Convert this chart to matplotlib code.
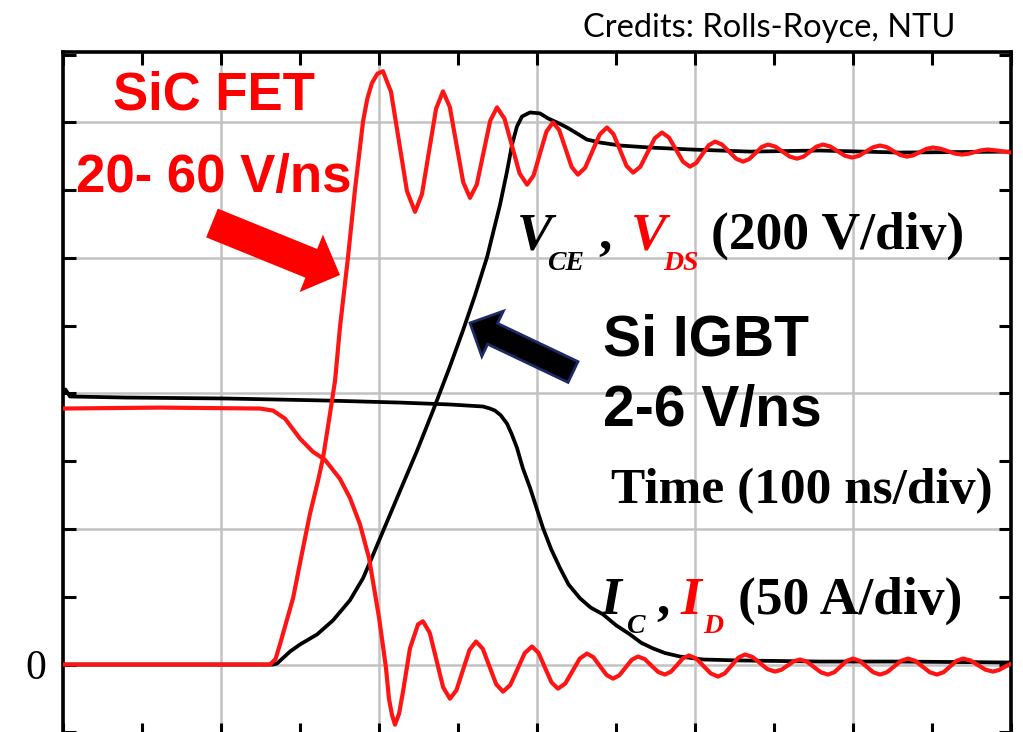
import matplotlib
matplotlib.use("Agg")
import matplotlib.pyplot as plt
import matplotlib.patches as mpatches
from matplotlib.ticker import MultipleLocator, FuncFormatter

# ---------------- data (time in ns, amplitude in divisions) ----------------
# SiC FET drain-source voltage V_DS (200 V/div)
t_vds = [0, 60, 131.0, 134.5, 137.3, 145.6, 151.9, 156.3, 161.4, 164.6, 169.0, 172.2, 175.3,
         180.4, 184.8, 189.9, 192.5, 195.5, 199.0, 202.5,
         207.6, 212.65, 217.7, 222.8, 227.2, 231.65, 236.1, 240.5,
         244.8, 249.05, 253.3, 257.6, 261.9, 266.15, 270.4, 274.7,
         279.45, 284.2, 288.95, 293.7, 297.8, 301.9, 306.0, 310.1,
         314.05, 318.0, 321.95, 325.9, 330.5, 335.1, 339.7, 344.3,
         348.4, 352.55, 356.7, 360.8, 365.4, 369.95, 374.5, 379.1,
         383.5, 387.95, 392.4, 396.8, 400.8, 404.75, 408.7, 412.7,
         417.1, 421.55, 426.0, 430.4, 434.35, 438.3, 442.25, 446.2,
         450.8, 455.4, 460.0, 464.6, 468.7, 472.8, 476.9, 481.0,
         485.6, 490.2, 494.8, 499.4, 503.8, 508.25, 512.7, 517.1,
         521.4, 525.65, 529.9, 534.2, 538.3, 542.4, 546.5, 550.6,
         555.2, 559.8, 564.4, 569.0, 573.1, 577.2, 581.3, 585.4,
         589.5, 593.6, 600]
vds = [0.0, 0.0, 0.0, 0.04, 0.148, 0.489, 0.859, 1.111, 1.356, 1.526, 1.852, 2.096, 2.489,
       3.007, 3.504, 4.007, 4.17, 4.29, 4.36, 4.378,
       4.226, 3.860, 3.493, 3.341, 3.471, 3.786, 4.100, 4.230,
       4.115, 3.837, 3.559, 3.444, 3.542, 3.778, 4.013, 4.111,
       4.028, 3.826, 3.625, 3.541, 3.608, 3.771, 3.933, 4.000,
       3.944, 3.808, 3.671, 3.615, 3.666, 3.789, 3.912, 3.963,
       3.914, 3.797, 3.679, 3.630, 3.673, 3.778, 3.883, 3.926,
       3.889, 3.800, 3.711, 3.674, 3.701, 3.767, 3.832, 3.859,
       3.837, 3.785, 3.733, 3.711, 3.730, 3.774, 3.819, 3.837,
       3.822, 3.785, 3.748, 3.733, 3.748, 3.785, 3.822, 3.837,
       3.823, 3.789, 3.755, 3.741, 3.754, 3.786, 3.817, 3.830,
       3.818, 3.789, 3.760, 3.748, 3.758, 3.782, 3.805, 3.815,
       3.807, 3.789, 3.771, 3.763, 3.769, 3.782, 3.795, 3.800,
       3.795, 3.789, 3.778]

# Si IGBT collector-emitter voltage V_CE (200 V/div)
t_vce = [0, 60, 133.0, 135.4, 143.7, 150.0, 160.8, 170.9, 181.6, 189.9, 194.3, 200.6,
         213.3, 224.1, 234.2, 244.9, 253.2, 260.8, 268.4, 276.6, 281.0, 284.2, 287.3,
         290.5, 295.6, 301.9, 307.0, 312.7, 319.0, 325.3, 331.6, 339.9, 352.5, 371.5,
         398.7, 434.8, 479.1, 529.7, 600]
vce = [0.0, 0.0, 0.0, 0.007, 0.096, 0.148, 0.222, 0.326, 0.474, 0.637, 0.756, 0.93,
       1.281, 1.578, 1.874, 2.2, 2.467, 2.726, 3.007, 3.393, 3.637, 3.837, 3.970,
       4.044, 4.074, 4.067, 4.030, 4.0, 3.963, 3.919, 3.874, 3.852, 3.830, 3.815,
       3.800, 3.785, 3.793, 3.778, 3.785]

# Si IGBT collector current I_C (50 A/div)
t_ic = [0, 1.5, 4.4, 40.5, 103.8, 167.1, 213.3, 244.9, 265.8, 270.0, 273.4, 277.0, 281.0,
        284.0, 287.3, 291.0, 295.6, 303.8, 309.0, 314.6, 320.0, 327.2, 334.0, 341.8,
        350.0, 358.9, 366.0, 373.4, 381.0, 390.5, 405.1, 428.5, 479.1, 529.7, 600]
ic = [2.0, 2.03, 1.978, 1.970, 1.963, 1.948, 1.933, 1.919, 1.904, 1.89, 1.874, 1.84, 1.778,
      1.70, 1.6, 1.45, 1.304, 1.007, 0.85, 0.711, 0.59, 0.489, 0.42, 0.370,
      0.29, 0.222, 0.16, 0.119, 0.085, 0.059, 0.037, 0.030, 0.022, 0.022, 0.015]

# SiC FET drain current I_D (50 A/div)
t_id = [0, 61.4, 124.7, 132.9, 140.5, 150.0, 158.2, 165.8, 175.3, 181.6, 187.9, 193.7,
        200.0, 204.4, 206.3, 208.2, 210.1, 212.7, 215.2, 219.6, 224.7, 227.8,
        232.1, 236.35, 240.6, 244.9, 249.0, 253.15, 257.3, 261.4,
        265.7, 269.95, 274.2, 278.5, 283.1, 287.65, 292.2, 296.8,
        300.9, 305.05, 309.2, 313.3, 317.9, 322.45, 327.0, 331.6,
        335.7, 339.85, 344.0, 348.1, 352.05, 356.0, 359.95, 363.9,
        368.2, 372.45, 376.7, 381.0, 384.8, 388.6, 392.4, 396.2,
        400.8, 405.4, 410.0, 414.6, 418.85, 423.1, 427.35, 431.6,
        436.35, 441.1, 445.85, 450.6, 454.6, 458.55, 462.5, 466.5,
        470.9, 475.35, 479.8, 484.2, 488.15, 492.1, 496.05, 500.0,
        504.3, 508.55, 512.8, 517.1, 521.5, 525.95, 530.4, 534.8,
        539.4, 544.0, 548.6, 553.2, 557.3, 561.4, 565.5, 569.6,
        574.35, 579.1, 583.85, 588.6, 592.5, 596.3, 600]
id_ = [1.889, 1.896, 1.889, 1.874, 1.815, 1.667, 1.570, 1.511, 1.370, 1.230, 1.037, 0.785,
       0.348, -0.022, -0.252, -0.37, -0.444, -0.363, -0.2, 0.119, 0.296, 0.319,
       0.235, 0.034, -0.168, -0.252, -0.190, -0.041, 0.108, 0.170,
       0.116, -0.015, -0.146, -0.200, -0.151, -0.034, 0.084, 0.133,
       0.087, -0.023, -0.132, -0.178, -0.140, -0.049, 0.043, 0.081,
       0.054, -0.012, -0.077, -0.104, -0.080, -0.023, 0.035, 0.059,
       0.040, -0.008, -0.055, -0.074, -0.053, -0.004, 0.046, 0.067,
       0.044, -0.011, -0.066, -0.089, -0.065, -0.008, 0.050, 0.074,
       0.056, 0.011, -0.034, -0.052, -0.039, -0.008, 0.024, 0.037,
       0.021, -0.019, -0.058, -0.074, -0.057, -0.015, 0.027, 0.044,
       0.027, -0.015, -0.057, -0.074, -0.057, -0.015, 0.027, 0.044,
       0.027, -0.015, -0.057, -0.074, -0.057, -0.015, 0.027, 0.044,
       0.030, -0.004, -0.038, -0.052, -0.040, -0.015, 0.005]

# ---------------- figure ----------------
W, H = 1023, 732
fig = plt.figure(figsize=(W / 100, H / 100), dpi=100)
fig.patch.set_facecolor("white")
ax = fig.add_axes([63 / W, -3 / H, (1011 - 63) / W, (680 + 3) / H])
ax.set_xlim(0, 600)
ax.set_ylim(-0.52, 4.52)

ax.xaxis.set_major_locator(MultipleLocator(100))
ax.xaxis.set_minor_locator(MultipleLocator(50))
ax.yaxis.set_major_locator(MultipleLocator(1))
ax.yaxis.set_minor_locator(MultipleLocator(0.5))
ax.grid(which="major", color="#c2c2c2", lw=1.8)
ax.set_axisbelow(True)
ax.tick_params(which="both", direction="in", length=9, width=2.2, top=True, right=True,
               labelbottom=False, color="black")
ax.yaxis.set_major_formatter(FuncFormatter(lambda v, p: "0" if abs(v) < 1e-9 else ""))
ax.tick_params(axis="y", which="major", labelsize=30, pad=12,
               labelfontfamily="Liberation Serif")
for s in ax.spines.values():
    s.set_linewidth(2.6)

ax.plot(t_vce, vce, color="black", lw=2.7, zorder=3, solid_joinstyle="round")
ax.plot(t_ic, ic, color="black", lw=2.7, zorder=3, solid_joinstyle="round")
ax.plot(t_vds, vds, color="#ff1414", lw=3.0, zorder=4, solid_joinstyle="round")
ax.plot(t_id, id_, color="#ff1414", lw=3.0, zorder=4, solid_joinstyle="round")


def ftxt(px, py, s, **kw):
    kw.setdefault("ha", "left")
    kw.setdefault("va", "baseline")
    fig.text(px / W, 1 - py / H, s, **kw)


SANS = "Liberation Sans"
SERIF = "Liberation Serif"
ftxt(583, 37, "Credits: Rolls-Royce, NTU", family="Lato", size=23.5, color="black")
ftxt(113, 110, "SiC FET", color="#ff0000", weight="bold", family=SANS, size=38)
ftxt(76, 192, "20- 60 V/ns", color="#ff0000", weight="bold", family=SANS, size=38)
ftxt(603, 355, "Si IGBT", color="black", weight="bold", family=SANS, size=41)
ftxt(603, 426, "2-6 V/ns", color="black", weight="bold", family=SANS, size=41)

big = dict(family=SERIF, weight="bold", size=38.5)
sub = dict(family=SERIF, weight="bold", style="italic", size=20)
ftxt(517, 249, "V", style="italic", color="black", **big)
ftxt(547, 270, "CE", color="black", **sub)
ftxt(598, 249, ",", color="black", **big)
ftxt(631, 249, "V", style="italic", color="#ff0000", **big)
ftxt(663, 270, "DS", color="#ff0000", **sub)
ftxt(711, 249, "(200 V/div)", color="black", **big)
ftxt(611, 503, "Time (100 ns/div)", color="black", family=SERIF, weight="bold", size=37)
ftxt(601, 614, "I", style="italic", color="black", **big)
ftxt(626, 633, "C", color="black", **sub)
ftxt(656, 614, ",", color="black", **big)
ftxt(681, 614, "I", style="italic", color="#ff0000", **big)
ftxt(703, 633, "D", color="#ff0000", **sub)
ftxt(738, 614, "(50 A/div)", color="black", **big)

# arrows (in inches from figure bottom-left)
red_arrow = mpatches.FancyArrow(212 / 100, (H - 223) / 100, 1.28, -0.52, width=0.31,
                                head_width=0.62, head_length=0.31,
                                length_includes_head=True, transform=fig.dpi_scale_trans,
                                fc="#ff0000", ec="none", zorder=10)
blk_arrow = mpatches.FancyArrow(573 / 100, (H - 372) / 100, -1.03, 0.49, width=0.23,
                                head_width=0.50, head_length=0.25,
                                length_includes_head=True, transform=fig.dpi_scale_trans,
                                fc="black", ec="#1c2a66", lw=2, zorder=10)
fig.add_artist(red_arrow)
fig.add_artist(blk_arrow)

fig.savefig("out.png", dpi=100, facecolor="white")
